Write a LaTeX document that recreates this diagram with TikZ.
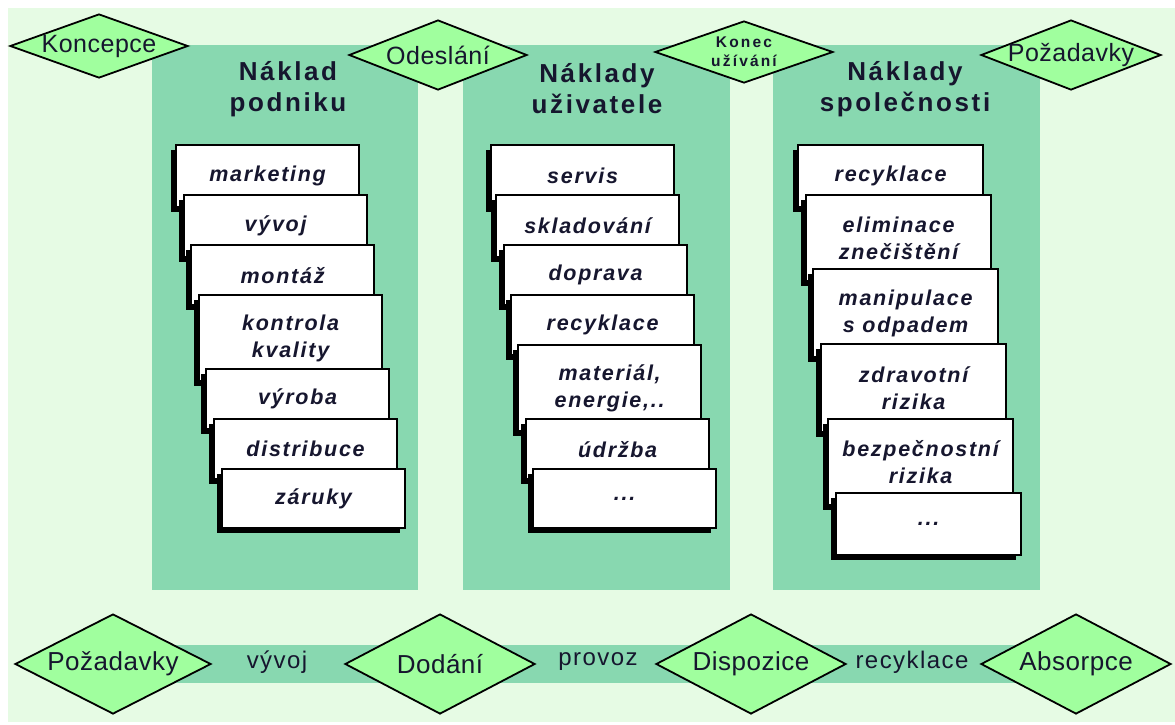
\documentclass[tikz,border=0pt]{standalone}
\usepackage{fontspec}
\setmainfont{Liberation Sans}
\newfontfamily\cardfont[LetterSpace=8]{Liberation Sans}
\newfontfamily\titlefont[LetterSpace=10]{Liberation Sans}
\newfontfamily\dfont[LetterSpace=2]{Liberation Sans}
\newfontfamily\konecfont[LetterSpace=14]{Liberation Sans}
\newfontfamily\bandfont[LetterSpace=6]{Liberation Sans}
\usetikzlibrary{shapes.geometric,shadows}
\definecolor{bgpale}{HTML}{E6FBE4}
\definecolor{colgreen}{HTML}{88D8B0}
\definecolor{diagreen}{HTML}{A0FF9E}
\definecolor{ink}{HTML}{16162E}
\tikzset{
  column/.style={fill=colgreen, draw=none, inner sep=0pt, anchor=north west},
  card/.style={draw=black, line width=2.2pt, fill=white, minimum width=183pt,
    inner sep=0pt, anchor=north west, align=center, text=ink,
    font=\cardfont\bfseries\itshape\fontsize{21.5}{27}\selectfont,
    drop shadow={shadow xshift=-5pt, shadow yshift=-5pt, fill=black, opacity=1}},
  coltitle/.style={align=center, text=ink, inner sep=0pt,
    font=\titlefont\bfseries\fontsize{26}{31}\selectfont},
  dia/.style={diamond, draw=black, line width=1.8pt, fill=diagreen, inner sep=0pt,
    text=ink, font=\dfont\fontsize{25}{27}\selectfont},
  bigdia/.style={dia, font=\dfont\fontsize{26}{28}\selectfont},
  band/.style={line width=38pt, draw=colgreen},
  bandlabel/.style={text=ink, inner sep=0pt, font=\bandfont\fontsize{24}{26}\selectfont}
}
\begin{document}
\begin{tikzpicture}[x=1pt,y=-1pt]
\useasboundingbox (0,0) rectangle (1175,724);
\fill[bgpale] (8,8) rectangle (1175,722);

% columns
\node[column, minimum width=266pt, minimum height=545pt] (col1) at (152,45) {};
\node[column, minimum width=267pt, minimum height=545pt] (col2) at (463,45) {};
\node[column, minimum width=267pt, minimum height=545pt] (col3) at (773,45) {};

% bottom band
\coordinate (bandL) at (113,664);
\coordinate (bandR) at (1076,664);
\draw[band] (bandL) -- (bandR);

% titles
\node[coltitle] (t1) at (288,89) {Náklad\\podniku};
\node[coltitle] (t2) at (597,89) {Náklady\\uživatele};
\node[coltitle] (t3) at (905,89) {Náklady\\společnosti};

% column 1 cards
\node[card, minimum height=62pt] (a1) at (175,144) {marketing};
\node[card, minimum height=62pt] (a2) at (183,194) {vývoj};
\node[card, minimum height=60pt] (a3) at (190,244) {montáž};
\node[card, minimum height=86pt] (a4) at (198,294) {kontrola\\kvality};
\node[card, minimum height=60pt] (a5) at (205,368) {výroba};
\node[card, minimum height=60pt] (a6) at (213,418) {distribuce};
\node[card, minimum height=59pt] (a7) at (221,468) {záruky};

% column 2 cards
\node[card, minimum height=62pt] (b1) at (490,144) {servis};
\node[card, minimum height=62pt] (b2) at (495,194) {skladování};
\node[card, minimum height=60pt] (b3) at (503,244) {doprava};
\node[card, minimum height=60pt] (b4) at (510,294) {recyklace};
\node[card, minimum height=86pt] (b5) at (517,344) {materiál,\\energie,..};
\node[card, minimum height=60pt] (b6) at (525,418) {údržba};
\node[card, minimum height=59pt] (b7) at (532,468) {...};

% column 3 cards
\node[card, minimum width=185pt, minimum height=62pt] (c1) at (797,144) {recyklace};
\node[card, minimum width=185pt, minimum height=86pt] (c2) at (805,194) {eliminace\\znečištění};
\node[card, minimum width=185pt, minimum height=88pt] (c3) at (812,268) {manipulace\\s odpadem};
\node[card, minimum width=185pt, minimum height=88pt] (c4) at (820,343) {zdravotní\\rizika};
\node[card, minimum width=185pt, minimum height=86pt] (c5) at (827,418) {bezpečnostní\\rizika};
\node[card, minimum width=185pt, minimum height=62pt] (c6) at (835,492) {...};

% top diamonds
\node[dia, minimum width=178pt, minimum height=64pt] (koncepce) at (99,46) {\makebox[0pt]{Koncepce}};
\node[dia, minimum width=178pt, minimum height=70pt] (odeslani) at (438,55) {\makebox[0pt]{Odeslání}};
\node[dia, minimum width=178pt, minimum height=62pt, align=center,
      font=\konecfont\bfseries\fontsize{15.5}{19}\selectfont] (konec) at (744,52)
      {\makebox[0pt]{Konec}\\\makebox[0pt]{užívání}};
\node[dia, minimum width=180pt, minimum height=70pt] (pozT) at (1071,55) {\makebox[0pt]{Požadavky}};

% bottom diamonds
\node[bigdia, minimum width=196pt, minimum height=100pt] (pozB) at (bandL) {\makebox[0pt]{Požadavky}};
\node[bigdia, minimum width=190pt, minimum height=100pt] (dodani) at (440,664) {\makebox[0pt]{Dodání}};
\node[bigdia, minimum width=190pt, minimum height=100pt] (dispozice) at (751,664) {\makebox[0pt]{Dispozice}};
\node[bigdia, minimum width=190pt, minimum height=100pt] (absorpce) at (bandR) {\makebox[0pt]{Absorpce}};

% band labels
\node[bandlabel] (vyvoj) at (277,662) {vývoj};
\node[bandlabel] (provoz) at (598,662) {provoz};
\node[bandlabel] (recykl) at (912,662) {recyklace};
\end{tikzpicture}
\end{document}
